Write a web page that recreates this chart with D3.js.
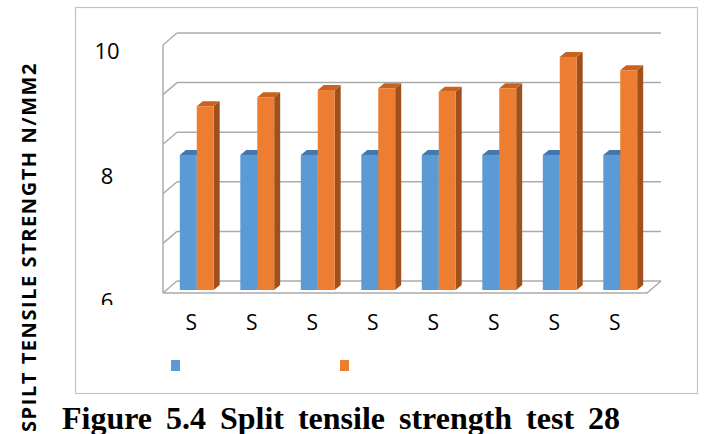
<!DOCTYPE html>
<html>
<head>
<meta charset="utf-8">
<script src="https://cdn.jsdelivr.net/npm/d3@7"></script>
<style>
  body { margin: 0; background: #fff; }
  svg { display: block; }
</style>
</head>
<body>
<svg id="canvas" width="704" height="434"></svg>
<script>
// chart data
const categories = ['S1', 'S2', 'S3', 'S4', 'S5', 'S6', 'S7', 'S8'];
const xLabels = ['S', 'S', 'S', 'S', 'S', 'S', 'S', 'S'];
const series = ['Series1', 'Series2'];
const blueValues = [8.25, 8.25, 8.25, 8.25, 8.25, 8.25, 8.25, 8.25];
const orangeValues = [9.06, 9.21, 9.33, 9.36, 9.30, 9.36, 9.88, 9.66];
const yTicks = [6, 8, 10];
const yTitle = 'SPILT TENSILE STRENGTH N/MM2';
const caption = 'Figure 5.4 Split tensile strength test 28';

const width = 704;
const height = 434;

const colors = ['#5b9bd5', '#ed7d31'];
const topColors = ['#4377b0', '#c9621f'];
const sideColors = ['#3d6c9e', '#a0501b'];

// 3d box of the plot: front plane plus a depth offset
const front = { left: 163, right: 647, bottom: 293, top: 45 };
const depthX = 14;
const depthY = 12;
const barDepth = 0.25;   // where the bars sit inside the box
const barDx = 6;
const barDy = 5;

const yMin = 6;
const yMax = 10.13;
const gridCount = 5;

let canvas = d3.select('#canvas');

let x0 = d3.scaleBand()
    .domain(d3.range(categories.length))
    .range([front.left, front.right])
    .paddingInner(0.44)
    .paddingOuter(0.22);

let x1 = d3.scaleBand()
    .domain(series)
    .range([0, x0.bandwidth()]);

let y = d3.scaleLinear()
    .domain([yMin, yMax])
    .range([front.bottom, front.top]);

// the value labels sit a little lower than the gridlines in the original
let yLabel = d3.scaleLinear()
    .domain([6, 10])
    .range([301, 51]);

let drawFrame = () => {
    canvas.append('rect')
        .attr('x', 75.5)
        .attr('y', 7.5)
        .attr('width', 622)
        .attr('height', 386)
        .attr('fill', 'none')
        .attr('stroke', '#c4c4c4')
        .attr('stroke-width', 1.2);
}

let drawGrid = () => {
    let grid = canvas.append('g')
        .attr('stroke', '#ababab')
        .attr('stroke-width', 1.5)
        .attr('fill', 'none');

    let gridValues = d3.range(gridCount + 1).map(i => yMin + i * (yMax - yMin) / gridCount);

    // back wall lines
    grid.selectAll('line.back')
        .data(gridValues)
        .enter()
        .append('line')
        .attr('class', 'back')
        .attr('x1', front.left + depthX)
        .attr('x2', front.right + depthX)
        .attr('y1', d => y(d) - depthY)
        .attr('y2', d => y(d) - depthY);

    // side wall diagonals
    grid.selectAll('line.side')
        .data(gridValues)
        .enter()
        .append('line')
        .attr('class', 'side')
        .attr('x1', front.left)
        .attr('x2', front.left + depthX)
        .attr('y1', d => y(d))
        .attr('y2', d => y(d) - depthY);

    // front left edge
    grid.append('line')
        .attr('x1', front.left)
        .attr('x2', front.left)
        .attr('y1', y(yMax))
        .attr('y2', y(yMin));

    // floor
    grid.append('path')
        .attr('d', 'M' + front.left + ',' + y(yMin) +
            'L' + front.right + ',' + y(yMin) +
            'L' + (front.right + depthX) + ',' + (y(yMin) - depthY));
}

let drawBars = () => {
    let offX = depthX * barDepth;
    let offY = depthY * barDepth;
    let valueSets = [blueValues, orangeValues];

    series.forEach((s, si) => {
        let g = canvas.append('g');
        let data = valueSets[si].map((v, i) => ({ i: i, v: v }));
        let bx = d => x0(d.i) + x1(s) + offX;
        let bw = x1.bandwidth();
        let top = d => y(d.v) - offY;
        let bottom = y(yMin) - offY;

        // side face
        g.selectAll('path.side')
            .data(data)
            .enter()
            .append('path')
            .attr('fill', sideColors[si])
            .attr('d', d => 'M' + (bx(d) + bw) + ',' + top(d) +
                'L' + (bx(d) + bw + barDx) + ',' + (top(d) - barDy) +
                'L' + (bx(d) + bw + barDx) + ',' + (bottom - barDy) +
                'L' + (bx(d) + bw) + ',' + bottom + 'Z');

        // top face
        g.selectAll('path.top')
            .data(data)
            .enter()
            .append('path')
            .attr('fill', topColors[si])
            .attr('d', d => 'M' + bx(d) + ',' + top(d) +
                'L' + (bx(d) + barDx) + ',' + (top(d) - barDy) +
                'L' + (bx(d) + bw + barDx) + ',' + (top(d) - barDy) +
                'L' + (bx(d) + bw) + ',' + top(d) + 'Z');

        // front face
        g.selectAll('rect')
            .data(data)
            .enter()
            .append('rect')
            .attr('x', bx)
            .attr('y', top)
            .attr('width', bw)
            .attr('height', d => bottom - top(d))
            .attr('fill', colors[si]);
    });
}

let drawAxes = () => {
    canvas.append('clipPath')
        .attr('id', 'labelClip')
        .append('rect')
        .attr('x', 0)
        .attr('y', 0)
        .attr('width', width)
        .attr('height', 305);

    let yAxis = canvas.append('g')
        .attr('clip-path', 'url(#labelClip)')
        .append('g')
        .attr('transform', 'translate(107,0)')
        .call(d3.axisLeft(yLabel).tickValues(yTicks).tickSize(0).tickPadding(0).tickFormat(d3.format('d')));
    yAxis.select('.domain').remove();
    yAxis.selectAll('text')
        .attr('text-anchor', 'middle')
        .attr('x', 0)
        .attr('dy', '0.36em')
        .attr('fill', '#000')
        .style('font-family', '"Open Sans", sans-serif')
        .style('font-size', '22px');

    let xAxis = canvas.append('g')
        .attr('transform', 'translate(-2,' + 315 + ')')
        .call(d3.axisBottom(x0).tickSize(0).tickPadding(0).tickFormat(i => xLabels[i]));
    xAxis.select('.domain').remove();
    xAxis.selectAll('text')
        .attr('dy', '0.72em')
        .attr('fill', '#000')
        .style('font-family', '"Open Sans", sans-serif')
        .style('font-size', '21px');
}

let drawLegend = () => {
    canvas.selectAll('rect.legend')
        .data(series)
        .enter()
        .append('rect')
        .attr('class', 'legend')
        .attr('x', (d, i) => 171 + i * 169)
        .attr('y', 360)
        .attr('width', 9)
        .attr('height', 11)
        .attr('fill', (d, i) => colors[i]);
}

let drawTitles = () => {
    let yt = canvas.append('text')
        .attr('transform', 'translate(36,247) rotate(-90)')
        .attr('text-anchor', 'middle')
        .attr('fill', '#000')
        .style('font-family', '"Open Sans", sans-serif')
        .style('font-weight', 'bold')
        .style('font-size', '20px')
        .text(yTitle);

    // the title in the original runs from y 62 to y 432
    let tlen = yt.node().getComputedTextLength();
    yt.style('letter-spacing', ((370 - tlen) / yTitle.length) + 'px');

    let cap = canvas.append('text')
        .attr('x', 62)
        .attr('y', 429)
        .attr('fill', '#000')
        .style('font-family', '"Liberation Serif", "Times New Roman", serif')
        .style('font-weight', 'bold')
        .style('font-size', '32px')
        .text(caption);

    // stretch the word gaps the way the justified caption is
    let len = cap.node().getComputedTextLength();
    let gaps = caption.split(' ').length - 1;
    cap.style('word-spacing', ((558 - len) / gaps) + 'px');
}

drawFrame();
drawGrid();
drawBars();
drawAxes();
drawLegend();
drawTitles();
</script>
</body>
</html>
